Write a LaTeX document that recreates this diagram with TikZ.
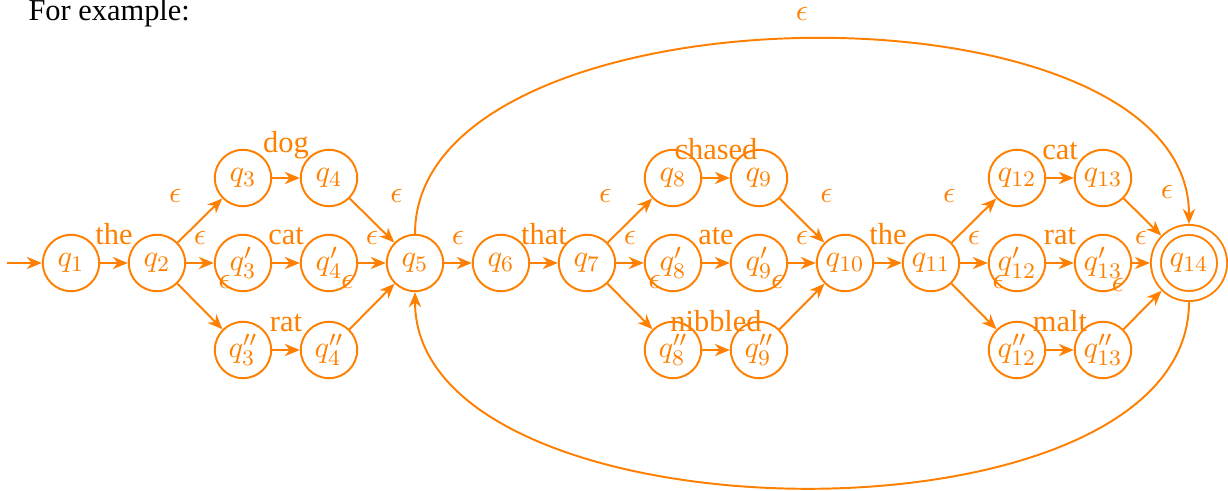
\documentclass[tikz,border=0pt]{standalone}
\usepackage[no-math]{fontspec}
\setmainfont{Liberation Serif}
\usetikzlibrary{arrows.meta}
\begin{document}
\begin{tikzpicture}[x=0.36pt,y=0.36pt,font=\fontsize{10.95}{13.2}\selectfont,
  st/.style={circle,draw=orange,text=orange,minimum size=20.3pt,inner sep=0pt,line width=0.7pt},
  acc/.style={st,minimum size=23.8pt,double,double distance=2.9pt,outer sep=2.15pt},
  arr/.style={draw=orange,line width=0.7pt,-{Stealth[length=5.4pt,width=4.4pt,inset=1.7pt]}},
  lbl/.style={auto,inner sep=6.3pt,text=orange}]
\useasboundingbox (0,0) rectangle (1228,491);
\node[anchor=base west,inner sep=0pt,text=black] (title) at (28,470) {For example:};
% states
\node[st] (q1) at (71,228) {$q_1$};
\node[st] (q2) at (157,228) {$q_2$};
\node[st] (q3) at (243,313) {$q_3$};
\node[st] (q4) at (329,313) {$q_4$};
\node[st] (q3p) at (243,228) {$q'_3$};
\node[st] (q4p) at (329,228) {$q'_4$};
\node[st] (q3pp) at (243,141) {$q''_3$};
\node[st] (q4pp) at (329,141) {$q''_4$};
\node[st] (q5) at (415,228) {$q_5$};
\node[st] (q6) at (501,228) {$q_6$};
\node[st] (q7) at (587,228) {$q_7$};
\node[st] (q8) at (673,313) {$q_8$};
\node[st] (q9) at (759,313) {$q_9$};
\node[st] (q8p) at (673,228) {$q'_8$};
\node[st] (q9p) at (759,228) {$q'_9$};
\node[st] (q8pp) at (673,141) {$q''_8$};
\node[st] (q9pp) at (759,141) {$q''_9$};
\node[st] (q10) at (845,228) {$q_{10}$};
\node[st] (q11) at (931,228) {$q_{11}$};
\node[st] (q12) at (1017,313) {$q_{12}$};
\node[st] (q13) at (1103,313) {$q_{13}$};
\node[st] (q12p) at (1017,228) {$q'_{12}$};
\node[st] (q13p) at (1103,228) {$q'_{13}$};
\node[st] (q12pp) at (1017,141) {$q''_{12}$};
\node[st] (q13pp) at (1103,141) {$q''_{13}$};
\node[acc] (q14) at (1189,228) {$q_{14}$};
\coordinate (start) at (7,228);
% edges
\draw[arr] (start) -- (q1);
\draw[arr] (q1) -- node[lbl] {the} (q2);
\draw[arr] (q2) -- node[lbl] {$\epsilon$} (q3);
\draw[arr] (q2) -- node[lbl] {$\epsilon$} (q3p);
\draw[arr] (q2) -- node[lbl] {$\epsilon$} (q3pp);
\draw[arr] (q3) -- node[lbl] {dog} (q4);
\draw[arr] (q3p) -- node[lbl] {cat} (q4p);
\draw[arr] (q3pp) -- node[lbl] {rat} (q4pp);
\draw[arr] (q4) -- node[lbl] {$\epsilon$} (q5);
\draw[arr] (q4p) -- node[lbl] {$\epsilon$} (q5);
\draw[arr] (q4pp) -- node[lbl] {$\epsilon$} (q5);
\draw[arr] (q5) -- node[lbl] {$\epsilon$} (q6);
\draw[arr] (q6) -- node[lbl] {that} (q7);
\draw[arr] (q7) -- node[lbl] {$\epsilon$} (q8);
\draw[arr] (q7) -- node[lbl] {$\epsilon$} (q8p);
\draw[arr] (q7) -- node[lbl] {$\epsilon$} (q8pp);
\draw[arr] (q8) -- node[lbl] {chased} (q9);
\draw[arr] (q8p) -- node[lbl] {ate} (q9p);
\draw[arr] (q8pp) -- node[lbl] {nibbled} (q9pp);
\draw[arr] (q9) -- node[lbl] {$\epsilon$} (q10);
\draw[arr] (q9p) -- node[lbl] {$\epsilon$} (q10);
\draw[arr] (q9pp) -- node[lbl] {$\epsilon$} (q10);
\draw[arr] (q10) -- node[lbl] {the} (q11);
\draw[arr] (q11) -- node[lbl] {$\epsilon$} (q12);
\draw[arr] (q11) -- node[lbl] {$\epsilon$} (q12p);
\draw[arr] (q11) -- node[lbl] {$\epsilon$} (q12pp);
\draw[arr] (q12) -- node[lbl] {cat} (q13);
\draw[arr] (q12p) -- node[lbl] {rat} (q13p);
\draw[arr] (q12pp) -- node[lbl] {malt} (q13pp);
\draw[arr] (q13) -- node[lbl] {$\epsilon$} (q14);
\draw[arr] (q13p) -- node[lbl] {$\epsilon$} (q14);
\draw[arr] (q13pp) -- node[lbl] {$\epsilon$} (q14);
% loops
\draw[arr] (q5.north) .. controls +(0,253) and +(0,253) .. node[lbl,pos=0.5] {$\epsilon$} (q14.north);
\draw[arr] (q14.south) .. controls +(0,-254) and +(0,-254) .. (q5.south);
\end{tikzpicture}
\end{document}
